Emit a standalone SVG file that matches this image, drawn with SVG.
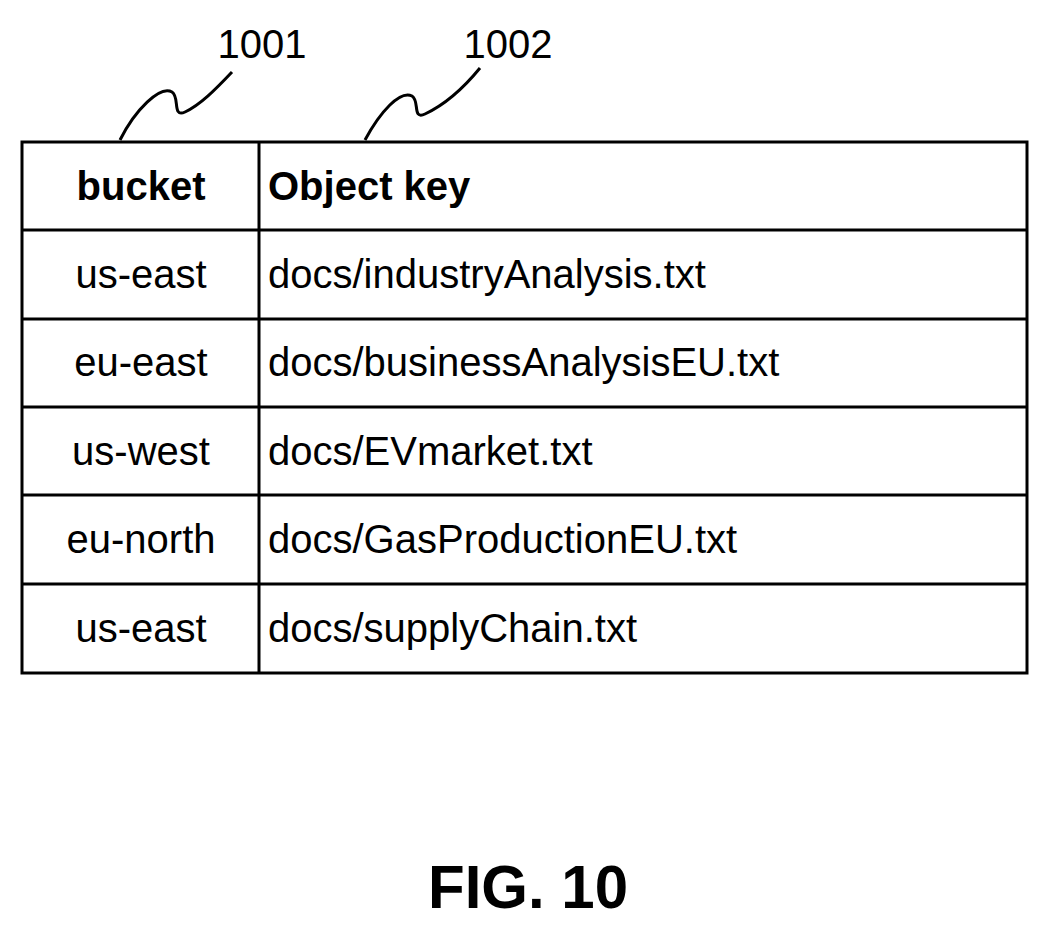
<svg xmlns="http://www.w3.org/2000/svg" width="1050" height="935" viewBox="0 0 1050 935">
<style>
.t{font-family:"Liberation Sans",Arial,sans-serif;font-size:40px;fill:#000}
.b{font-weight:bold}
.c{text-anchor:middle}
.ln{fill:none;stroke:#000;stroke-width:3}
</style>
<rect width="1050" height="935" fill="#fff"/>
<g id="leaders">
<path class="ln" d="M120,140 C135,110 160,85 172,92 C180,97 172,118 185,112 C200,105 215,90 232,72"/>
<path class="ln" d="M365,140 C380,112 400,90 412,96 C420,101 412,120 425,114 C442,106 462,90 480,68"/>
<text class="t" x="262" y="58" text-anchor="middle">1001</text>
<text class="t" x="508" y="58" text-anchor="middle">1002</text>
</g>
<g id="table">
<rect class="ln" x="22" y="142" width="1005" height="531"/>
<line class="ln" x1="259" y1="142" x2="259" y2="673"/>
<line class="ln" x1="22" y1="230" x2="1027" y2="230"/>
<line class="ln" x1="22" y1="319" x2="1027" y2="319"/>
<line class="ln" x1="22" y1="407" x2="1027" y2="407"/>
<line class="ln" x1="22" y1="495" x2="1027" y2="495"/>
<line class="ln" x1="22" y1="584" x2="1027" y2="584"/>
<text class="t b c" x="141" y="200">bucket</text>
<text class="t b" x="268" y="200">Object key</text>
<text class="t c" x="141" y="288">us-east</text>
<text class="t" x="268" y="288">docs/industryAnalysis.txt</text>
<text class="t c" x="141" y="376">eu-east</text>
<text class="t" x="268" y="376">docs/businessAnalysisEU.txt</text>
<text class="t c" x="141" y="465">us-west</text>
<text class="t" x="268" y="465">docs/EVmarket.txt</text>
<text class="t c" x="141" y="553">eu-north</text>
<text class="t" x="268" y="553">docs/GasProductionEU.txt</text>
<text class="t c" x="141" y="642">us-east</text>
<text class="t" x="268" y="642">docs/supplyChain.txt</text>
</g>
<text class="t b c" x="528" y="908" style="font-size:62px" textLength="200" lengthAdjust="spacingAndGlyphs">FIG. 10</text>
</svg>
